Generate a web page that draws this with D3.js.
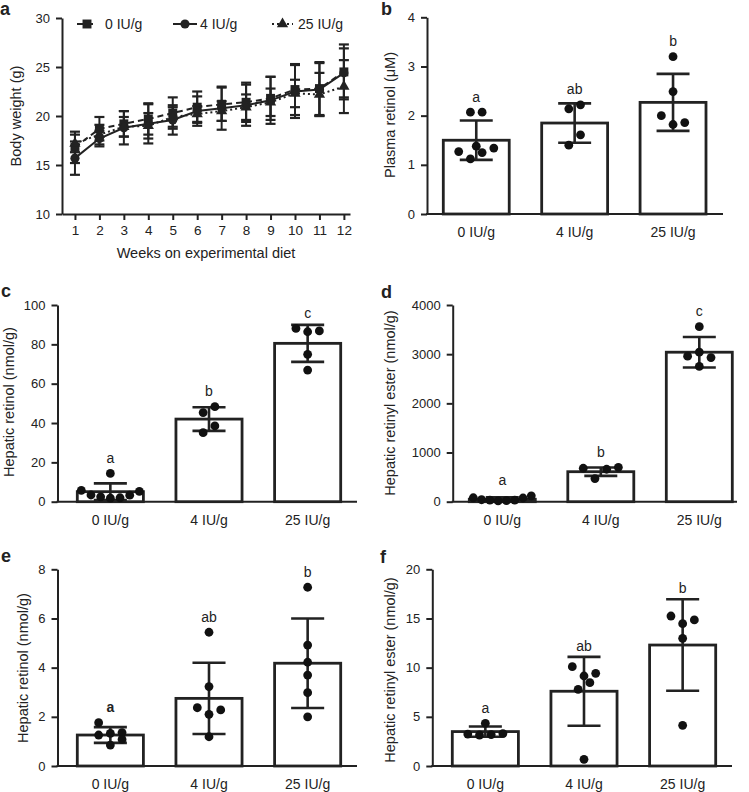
<!DOCTYPE html>
<html lang="en">
<head>
<meta charset="utf-8">
<title>Vitamin A diet figure</title>
<script src="https://cdn.jsdelivr.net/npm/d3@7"></script>
<style>
  body { margin: 0; background: #fff; }
  svg text { font-family: "Liberation Sans", Arial, Helvetica, sans-serif; fill: #222; }
  .axis path, .axis line { stroke: #222; stroke-width: 2; fill: none; }
  .axis text { font-size: 13px; fill: #222; }
</style>
</head>
<body>
<script>
// ---- data ----
var doses = ["0 IU/g", "4 IU/g", "25 IU/g"];
var weeks = [1, 2, 3, 4, 5, 6, 7, 8, 9, 10, 11, 12];

// panel a: body weight (g), mean and SD per week
var bw0Mean  = [16.8, 18.7, 19.2, 19.7, 20.3, 20.9, 21.2, 21.4, 21.8, 22.7, 22.8, 24.5];
var bw0Sd    = [1.6, 1.2, 1.3, 1.6, 1.6, 1.6, 1.7, 2.0, 2.2, 2.6, 2.7, 2.8];
var bw4Mean  = [15.7, 17.7, 18.8, 19.2, 19.6, 20.5, 20.8, 21.1, 21.6, 22.5, 22.7, 24.4];
var bw4Sd    = [1.7, 0.8, 1.7, 2.0, 1.5, 1.5, 2.2, 2.1, 2.4, 2.7, 2.7, 2.5];
var bw25Mean = [17.2, 18.1, 18.9, 19.0, 19.9, 20.2, 20.5, 20.9, 21.4, 22.3, 22.2, 23.0];
var bw25Sd   = [0.9, 1.0, 1.0, 1.3, 1.0, 0.8, 1.0, 1.3, 1.4, 1.4, 2.2, 2.7];

// panel b: plasma retinol (uM)
var plasmaMean = [1.50, 1.85, 2.27];
var plasmaSd = [0.40, 0.40, 0.58];
var plasmaPoints = [
  [2.07, 2.07, 1.27, 1.38, 1.25, 1.34, 1.12],
  [2.22, 2.14, 1.61, 1.40],
  [3.20, 2.49, 2.00, 1.82, 1.86]
];
var plasmaLetters = ["a", "ab", "b"];

// panel c: hepatic retinol (nmol/g)
var hepRetMean = [5.1, 42.0, 80.5];
var hepRetSd = [4.2, 6.0, 9.4];
var hepRetPoints = [
  [14.4, 5.2, 5.8, 3.3, 2.0, 1.8, 2.5, 3.4],
  [48.3, 45.3, 38.5, 35.1],
  [88.1, 86.4, 86.8, 74.9, 66.9]
];
var hepRetLetters = ["a", "b", "c"];

// panel d: hepatic retinyl ester (nmol/g)
var hepEstMean = [50, 610, 3040];
var hepEstSd = [40, 85, 310];
var hepEstPoints = [
  [120, 80, 40, 20, 15, 30, 75, 30],
  [470, 660, 680, 700],
  [3560, 2960, 3040, 2930, 2750]
];
var hepEstLetters = ["a", "b", "c"];

// panel e: hepatic retinol (nmol/g), second set
var hepRet2Mean = [1.26, 2.75, 4.18];
var hepRet2Sd = [0.32, 1.45, 1.82];
var hepRet2Points = [
  [1.76, 1.36, 1.26, 1.33, 1.08, 0.85],
  [5.44, 3.23, 2.28, 2.10, 2.37, 1.19],
  [7.27, 4.92, 4.22, 3.70, 2.98, 2.00]
];
var hepRet2Letters = ["a", "ab", "b"];

// panel f: hepatic retinyl ester (nmol/g), second set
var hepEst2Mean = [3.5, 7.6, 12.3];
var hepEst2Sd = [0.52, 3.5, 4.65];
var hepEst2Points = [
  [4.34, 3.3, 3.2, 3.15, 3.25],
  [10.1, 9.15, 9.42, 8.47, 7.8, 0.68],
  [15.25, 14.85, 14.47, 12.98, 4.14]
];
var hepEst2Letters = ["a", "ab", "b"];

// ---- drawing ----
var W = 749, H = 792;
var svg = d3.select("body").append("svg")
  .attr("width", W).attr("height", H);

var ink = "#222";
var plainNum = function (d) { return String(d); };

function panelLetter(t, x, y) {
  svg.append("text").attr("x", x).attr("y", y)
    .style("font-size", "18px").style("font-weight", "bold").text(t);
}

function yTitle(t, x, y) {
  svg.append("text")
    .attr("transform", "translate(" + x + "," + y + ") rotate(-90)")
    .attr("text-anchor", "middle").attr("dy", "0.35em")
    .style("font-size", "14.5px").text(t);
}

// ---------- panel a ----------
var xA = d3.scaleLinear().domain([0.47, 12.25]).range([62, 350]);
var yA = d3.scaleLinear().domain([10, 30]).range([214, 18]);

svg.append("g").attr("class", "axis")
  .attr("transform", "translate(62,0)")
  .call(d3.axisLeft(yA).tickValues([10, 15, 20, 25, 30]).tickFormat(plainNum).tickSizeOuter(0).tickPadding(6));
svg.append("g").attr("class", "axis")
  .attr("transform", "translate(0,214)")
  .call(d3.axisBottom(xA).tickValues(weeks).tickFormat(plainNum).tickSizeOuter(0).tickPadding(5))
  .selectAll("text").style("font-size", "13.5px");

var seriesA = [
  { mean: bw0Mean, sd: bw0Sd, dash: "6,4", sym: d3.symbolSquare, size: 80 },
  { mean: bw4Mean, sd: bw4Sd, dash: null, sym: d3.symbolCircle, size: 66 },
  { mean: bw25Mean, sd: bw25Sd, dash: "2,3", sym: d3.symbolTriangle, size: 55 }
];

var lineA = d3.line().x(function (d, i) { return xA(weeks[i]); }).y(function (d) { return yA(d); });

seriesA.forEach(function (s) {
  var g = svg.append("g");
  // error bars
  weeks.forEach(function (wk, i) {
    var x = xA(wk), hi = yA(s.mean[i] + s.sd[i]), lo = yA(s.mean[i] - s.sd[i]);
    g.append("line").attr("x1", x).attr("x2", x).attr("y1", hi).attr("y2", lo)
      .attr("stroke", ink).attr("stroke-width", 2);
    [hi, lo].forEach(function (yy) {
      g.append("line").attr("x1", x - 5).attr("x2", x + 5).attr("y1", yy).attr("y2", yy)
        .attr("stroke", ink).attr("stroke-width", 2.2);
    });
  });
});
seriesA.forEach(function (s) {
  svg.append("path").datum(s.mean).attr("d", lineA)
    .attr("fill", "none").attr("stroke", ink).attr("stroke-width", 2)
    .attr("stroke-dasharray", s.dash);
});
seriesA.forEach(function (s) {
  svg.append("g").selectAll("path").data(s.mean).enter().append("path")
    .attr("transform", function (d, i) { return "translate(" + xA(weeks[i]) + "," + yA(d) + ")"; })
    .attr("d", d3.symbol().type(s.sym).size(s.size))
    .attr("fill", ink);
});

// legend
var legendPos = [{ x1: 77, x2: 97, tx: 105 }, { x1: 173, x2: 197, tx: 200 }, { x1: 272, x2: 293, tx: 298 }];
seriesA.forEach(function (s, i) {
  var p = legendPos[i], ly = 24;
  svg.append("line").attr("x1", p.x1).attr("x2", p.x2).attr("y1", ly).attr("y2", ly)
    .attr("stroke", ink).attr("stroke-width", 2).attr("stroke-dasharray", s.dash);
  svg.append("path").attr("transform", "translate(" + (p.x1 + p.x2) / 2 + "," + ly + ")")
    .attr("d", d3.symbol().type(s.sym).size(s.size)).attr("fill", ink);
  svg.append("text").attr("x", p.tx).attr("y", ly).attr("dy", "0.36em")
    .style("font-size", "14px").text(doses[i]);
});

svg.append("text").attr("x", 206).attr("y", 253).attr("dy", "0.35em")
  .attr("text-anchor", "middle").style("font-size", "14.5px").text("Weeks on experimental diet");
yTitle("Body weight (g)", 16, 116);
panelLetter("a", 0, 15);

// ---------- bar panels ----------
function swarm(values, y, spacing, maxHalf) {
  // group close values into rows, spread each row symmetrically around the bar centre
  var idx = values.map(function (v, i) { return i; }).sort(function (a, b) { return values[a] - values[b]; });
  var rows = [], cur = null;
  idx.forEach(function (i) {
    var py = y(values[i]);
    if (cur && Math.abs(cur.start - py) < spacing) cur.items.push(i);
    else { cur = { start: py, items: [i] }; rows.push(cur); }
  });
  var off = new Array(values.length);
  rows.forEach(function (r) {
    var n = r.items.length;
    var order = [];
    if (n % 2) { order.push(0); for (var k = 1; order.length < n; k++) { order.push(k); if (order.length < n) order.push(-k); } }
    else { for (var k2 = 0.5; order.length < n; k2++) { order.push(-k2); if (order.length < n) order.push(k2); } }
    var half = (n - 1) / 2 * spacing;
    var sp = half > maxHalf ? maxHalf / ((n - 1) / 2) : spacing;
    r.items.forEach(function (item, j) { off[item] = order[j] * sp; });
  });
  return off;
}

function barPanel(c) {
  var y = d3.scaleLinear().domain([0, c.yMax]).range([c.y0, c.yTop]);
  var x = d3.scaleBand().domain(doses).range([c.bandLeft, c.bandRight])
    .paddingInner(0.33).paddingOuter(0);
  var bw = x.bandwidth();

  svg.append("g").attr("class", "axis")
    .attr("transform", "translate(" + c.left + ",0)")
    .call(d3.axisLeft(y).tickValues(c.ticks).tickFormat(plainNum).tickSizeOuter(0).tickPadding(6));
  svg.append("line").attr("x1", c.left - 1).attr("x2", c.right)
    .attr("y1", c.y0).attr("y2", c.y0).attr("stroke", ink).attr("stroke-width", 2);

  var r = 4.4;
  doses.forEach(function (d, i) {
    var cx = x(d) + bw / 2;
    svg.append("rect").attr("x", x(d)).attr("width", bw)
      .attr("y", y(c.mean[i])).attr("height", c.y0 - y(c.mean[i]))
      .attr("fill", "#fff").attr("stroke", ink).attr("stroke-width", 2.8);

    var hi = y(c.mean[i] + c.sd[i]), lo = y(Math.max(0, c.mean[i] - c.sd[i]));
    svg.append("line").attr("x1", cx).attr("x2", cx).attr("y1", hi).attr("y2", lo)
      .attr("stroke", ink).attr("stroke-width", 2.6);
    [hi, lo].forEach(function (yy) {
      svg.append("line").attr("x1", cx - bw / 4).attr("x2", cx + bw / 4).attr("y1", yy).attr("y2", yy)
        .attr("stroke", ink).attr("stroke-width", 2.6);
    });

    var pts = c.points[i];
    var off = swarm(pts, y, 11.7, bw / 2 - 4);
    svg.append("g").selectAll("circle").data(pts).enter().append("circle")
      .attr("cx", function (v, j) { return cx + off[j]; })
      .attr("cy", function (v) { return y(v); })
      .attr("r", r).attr("fill", "#111");

    var top = Math.min(hi, y(d3.max(pts)) - r);
    svg.append("text").attr("x", cx).attr("y", top - 6)
      .attr("text-anchor", "middle").style("font-size", "14px")
      .style("font-weight", c.boldFirst && i === 0 ? "bold" : "normal")
      .text(c.letters[i]);

    svg.append("text").attr("x", cx).attr("y", c.y0 + 23)
      .attr("text-anchor", "middle").style("font-size", "14px").text(d);
  });

  yTitle(c.title, c.titleX, c.titleY);
  panelLetter(c.tag, c.tagX, c.tagY);
}

barPanel({ tag: "b", tagX: 381, tagY: 15, left: 427, right: 723, bandLeft: 443.3, bandRight: 706,
  y0: 214, yTop: 17.3, yMax: 4, ticks: [0, 1, 2, 3, 4],
  mean: plasmaMean, sd: plasmaSd, points: plasmaPoints, letters: plasmaLetters,
  title: "Plasma retinol (\u03bcM)", titleX: 390, titleY: 115 });

barPanel({ tag: "c", tagX: 1, tagY: 297, left: 57.5, right: 357, bandLeft: 77.3, bandRight: 340.7,
  y0: 501.7, yTop: 305, yMax: 100, ticks: [0, 20, 40, 60, 80, 100],
  mean: hepRetMean, sd: hepRetSd, points: hepRetPoints, letters: hepRetLetters,
  title: "Hepatic retinol (nmol/g)", titleX: 9, titleY: 402 });

barPanel({ tag: "d", tagX: 381, tagY: 298, left: 452.7, right: 737, bandLeft: 469.3, bandRight: 732.3,
  y0: 501.7, yTop: 305, yMax: 4000, ticks: [0, 1000, 2000, 3000, 4000],
  mean: hepEstMean, sd: hepEstSd, points: hepEstPoints, letters: hepEstLetters,
  title: "Hepatic retinyl ester (nmol/g)", titleX: 390, titleY: 403 });

barPanel({ tag: "e", tagX: 1, tagY: 562, left: 57.5, right: 357, bandLeft: 77.3, bandRight: 340.7,
  y0: 766, yTop: 569.3, yMax: 8, ticks: [0, 2, 4, 6, 8], boldFirst: true,
  mean: hepRet2Mean, sd: hepRet2Sd, points: hepRet2Points, letters: hepRet2Letters,
  title: "Hepatic retinol (nmol/g)", titleX: 23, titleY: 668 });

barPanel({ tag: "f", tagX: 380, tagY: 563, left: 432.3, right: 732, bandLeft: 452.3, bandRight: 715.7,
  y0: 766, yTop: 569.3, yMax: 20, ticks: [0, 5, 10, 15, 20],
  mean: hepEst2Mean, sd: hepEst2Sd, points: hepEst2Points, letters: hepEst2Letters,
  title: "Hepatic retinyl ester (nmol/g)", titleX: 390, titleY: 670 });
</script>
</body>
</html>
